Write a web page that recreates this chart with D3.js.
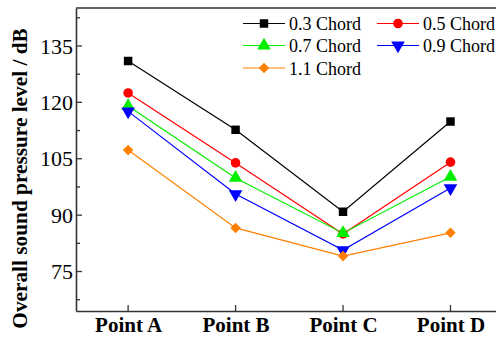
<!DOCTYPE html>
<html>
<head>
	<meta charset="utf-8">
	<script src="https://d3js.org/d3.v7.min.js"></script>
	<style>
		body { margin: 0; background: #fff; }
	</style>
</head>
<body>
	<div id="chart"></div>
	<script type="text/javascript">

		// categories and series
		var points = ["Point A", "Point B", "Point C", "Point D"];
		var seriesNames = ["0.3 Chord", "0.5 Chord", "0.7 Chord", "0.9 Chord", "1.1 Chord"];
		var chord03 = [131.0, 112.7, 90.9, 114.9];
		var chord05 = [122.5, 103.9, 85.0, 104.1];
		var chord07 = [119.0, 99.9, 85.2, 100.2];
		var chord09 = [117.6, 95.6, 80.7, 97.2];
		var chord11 = [107.3, 86.6, 79.1, 85.3];
		var yTicks = [75, 90, 105, 120, 135];

		var colors = ["#000000", "#ff0000", "#00ee00", "#0000ff", "#ff8000"];
		var symbols = ["square", "circle", "up", "down", "diamond"];
		var allSeries = [chord03, chord05, chord07, chord09, chord11];

		var serif = "'Liberation Serif'";
		var width = 496, height = 338;
		var padL = 76, padT = 8, plotR = 530, padB = 311;

		var svg = d3.select("#chart").append("svg")
			.attr("width", width)
			.attr("height", height)
			.style("font-family", serif);

		var xScale = d3.scaleLinear()
			.domain([0.515, 4.74])
			.range([padL, plotR]);

		var yScale = d3.scaleLinear()
			.domain([64.5, 145.1])
			.range([padB, padT]);

		function markerPath(s) {
			if (s === "square") return d3.symbol().type(d3.symbolSquare).size(72)();
			if (s === "circle") return d3.symbol().type(d3.symbolCircle).size(72)();
			if (s === "diamond") return d3.symbol().type(d3.symbolSquare).size(56)();
			return d3.symbol().type(d3.symbolTriangle).size(80)();
		}
		function markerRot(s) {
			if (s === "down") return " rotate(180)";
			if (s === "diamond") return " rotate(45)";
			return "";
		}

		// frame
		svg.append("line")
			.attr("x1", padL).attr("x2", width)
			.attr("y1", padT).attr("y2", padT)
			.attr("stroke", "#333").attr("stroke-width", 1.6);

		var yAxis = d3.axisLeft(yScale).tickValues(yTicks).tickSize(0).tickPadding(3);
		var gy = svg.append("g").attr("transform", "translate(" + padL + ",0)").call(yAxis);
		gy.attr("font-family", null);
		gy.select(".domain").attr("stroke", "#333").attr("stroke-width", 1.6);
		gy.selectAll("text").attr("font-size", 22).style("font-family", serif).attr("fill", "#000");

		// inward ticks on y, major and minor
		var yMinor = d3.range(67.5, 145, 7.5);
		svg.selectAll(".ytick").data(yMinor).enter().append("line")
			.attr("x1", padL)
			.attr("x2", function(d){ return yTicks.indexOf(d) >= 0 ? padL + 6 : padL + 4; })
			.attr("y1", function(d){ return yScale(d); })
			.attr("y2", function(d){ return yScale(d); })
			.attr("stroke", "#333").attr("stroke-width", 1.3);

		var xAxis = d3.axisBottom(xScale).tickValues([1, 2, 3, 4])
			.tickFormat(function(d){ return points[d - 1]; })
			.tickSize(0).tickPadding(6);
		var gx = svg.append("g").attr("transform", "translate(0," + padB + ")").call(xAxis);
		gx.attr("font-family", null);
		gx.select(".domain").attr("stroke", "#333").attr("stroke-width", 1.6);
		gx.selectAll("text").attr("font-size", 21).style("font-family", serif)
			.attr("font-weight", "bold").attr("fill", "#000");

		svg.selectAll(".xtick").data([1, 2, 3, 4]).enter().append("line")
			.attr("x1", function(d){ return xScale(d); })
			.attr("x2", function(d){ return xScale(d); })
			.attr("y1", padB)
			.attr("y2", padB - 6)
			.attr("stroke", "#333").attr("stroke-width", 1.3);

		// y axis title
		svg.append("text")
			.attr("transform", "translate(27,178.5) rotate(-90)")
			.attr("text-anchor", "middle")
			.attr("font-size", 21.3)
			.attr("font-weight", "bold")
			.style("font-family", serif)
			.text("Overall sound pressure level / dB");

		// series lines and markers
		var line = d3.line()
			.x(function(d, i){ return xScale(i + 1); })
			.y(function(d){ return yScale(d); });

		allSeries.forEach(function(vals, k) {
			svg.append("path")
				.attr("d", line(vals))
				.attr("fill", "none")
				.attr("stroke", colors[k])
				.attr("stroke-width", 1.2);
		});
		allSeries.forEach(function(vals, k) {
			svg.selectAll(".m" + k).data(vals).enter().append("path")
				.attr("class", "m" + k)
				.attr("d", markerPath(symbols[k]))
				.attr("transform", function(d, i){
					return "translate(" + xScale(i + 1) + "," + yScale(d) + ")" + markerRot(symbols[k]);
				})
				.attr("fill", colors[k]);
		});

		// legend
		var legX = [243, 377];
		var legY = [23.5, 45.5, 68];
		seriesNames.forEach(function(name, k) {
			var cx = legX[k % 2], cy = legY[Math.floor(k / 2)];
			var g = svg.append("g").attr("transform", "translate(" + cx + "," + cy + ")");
			g.append("line").attr("x1", 0).attr("x2", 42).attr("y1", 0).attr("y2", 0)
				.attr("stroke", colors[k]).attr("stroke-width", 1.2);
			g.append("path")
				.attr("d", markerPath(symbols[k]))
				.attr("transform", "translate(21,0)" + markerRot(symbols[k]))
				.attr("fill", colors[k]);
			g.append("text").attr("x", 46).attr("y", 6.5)
				.attr("font-size", 18)
				.style("font-family", serif)
				.text(name);
		});

	</script>
</body>
</html>
